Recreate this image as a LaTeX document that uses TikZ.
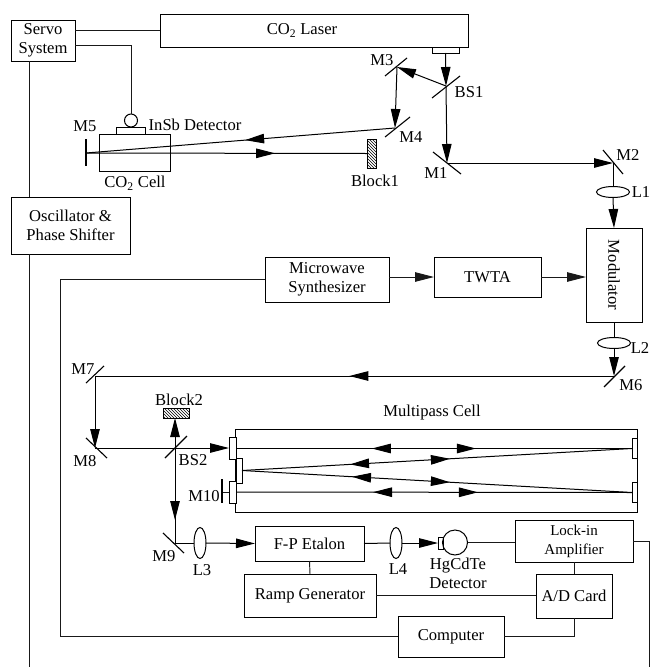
\documentclass[tikz,border=0pt]{standalone}
\usepackage{fontspec}
\setmainfont{Liberation Serif}
\usetikzlibrary{arrows.meta,calc,patterns,shapes.geometric,decorations.markings}
\tikzset{
  >={Triangle[length=19pt,width=9.5pt]},
  wire/.style={line width=0.95pt,black!90},
  beam/.style={line width=1pt,black},
  mirror/.style={line width=1.1pt,black},
  boxed/.style={draw,line width=0.95pt,fill=white,inner sep=0pt,outer sep=0pt,align=center},
  thinbox/.style={draw,line width=0.85pt,fill=white,inner sep=0pt,outer sep=0pt},
  blockbox/.style={draw,line width=0.85pt,inner sep=0pt,outer sep=0pt,pattern=north west lines},
  lensh/.style={ellipse,draw,line width=1pt,inner sep=0pt,outer sep=0pt,minimum width=33pt,minimum height=11pt},
  lensv/.style={ellipse,draw,line width=1pt,inner sep=0pt,outer sep=0pt,minimum width=12pt,minimum height=31pt},
  detcirc/.style={circle,draw,line width=1pt,inner sep=0pt,outer sep=0pt},
  lbl/.style={inner sep=0pt,align=center},
  tipfw/.style={postaction={decorate,decoration={markings,mark=at position #1 with {\arrow{>}}}}},
  tipbw/.style={postaction={decorate,decoration={markings,mark=at position #1 with {\arrowreversed{>}}}}},
}

\begin{document}
\begin{tikzpicture}[x=1pt,y=-1pt,every node/.append style={font=\fontsize{16.6}{19}\selectfont}]
  \useasboundingbox (0,0) rectangle (650,667);

  \node[boxed,minimum width=64,minimum height=41] (servo) at (43,40.5) {Servo\\System};
  \node[boxed,minimum width=308,minimum height=33] (laser) at (314,30.5) {\hspace*{-24pt}CO\textsubscript{2} Laser};
  \node[thinbox,minimum width=27,minimum height=6] (outlet) at (445.5,50) {};
  \node[boxed,minimum width=119,minimum height=57] (osc) at (70.5,225.5) {Oscillator \&\\Phase Shifter};
  \node[boxed,minimum width=71,minimum height=37] (co2cell) at (134.5,152.5) {};
  \node[thinbox,minimum width=29,minimum height=7] (insbbase) at (130.5,130.5) {};
  \node[detcirc,minimum size=13] (insb) at (131,120.5) {};
  \node[blockbox,minimum width=9,minimum height=29] (block1) at (371.5,153.5) {};

  \node[boxed,minimum width=124,minimum height=45] (synth) at (327,279.5) {Microwave\\Synthesizer};
  \node[boxed,minimum width=107,minimum height=40] (twta) at (487.5,277) {TWTA};
  \node[boxed,minimum width=94,minimum height=56,rotate=-90] (modulator) at (614,275) {Modulator};
  \node[lensh] (l1) at (613,192) {};
  \node[lensh] (l2) at (614,343) {};

  \node[boxed,minimum width=402,minimum height=83] (mpcell) at (436,470.5) {};
  \node[blockbox,minimum width=26,minimum height=10] (block2) at (176,413) {};
  \node[boxed,minimum width=109,minimum height=35] (fp) at (309.5,543.5) {F-P Etalon};
  \node[boxed,minimum width=132,minimum height=43] (ramp) at (310,595.5) {Ramp Generator};
  \node[boxed,minimum width=118,minimum height=42] (lockin) at (574,541) {\fontsize{15}{18}\selectfont Lock-in\\\fontsize{15}{18}\selectfont Amplifier};
  \node[boxed,minimum width=76,minimum height=44] (adcard) at (574,596) {A/D Card};
  \node[boxed,minimum width=106,minimum height=41] (computer) at (451,636.5) {Computer};
  \node[lensv] (l3) at (200,543) {};
  \node[lensv] (l4) at (396,543) {};
  \node[thinbox,minimum width=5,minimum height=12] (hgwin) at (440.5,543) {};
  \node[detcirc,minimum size=25] (hgcdte) at (455,542.5) {};

  \coordinate (m1) at (447,163);
  \coordinate (m2) at (613,163);
  \coordinate (m3) at (397,67);
  \coordinate (m4) at (395,128);
  \coordinate (m5) at (86,153);
  \coordinate (m6) at (614,376);
  \coordinate (m7) at (95,376);
  \coordinate (m8) at (95,448);
  \coordinate (m9) at (175,543);
  \coordinate (bs1) at (446,86);
  \coordinate (bs2) at (175,448);
  \coordinate (m10) at (222,492);
  \coordinate (leftbus) at (29,667);
  \coordinate (midbus) at (60,636.5);
  \coordinate (rightbus) at (649.5,667);

  \draw[wire] (laser.west) -- (laser.west -| servo.east);
  \draw[wire] ($(servo.east)+(0,4.5)$) -| (insb.north);
  \draw[wire] (osc.north -| leftbus) -- (servo.south -| leftbus);
  \draw[wire] (leftbus) -- (osc.south -| leftbus);
  \draw[wire] (synth.west) -| (midbus) -- (computer.west);
  \draw[wire] (fp.south) -- (ramp.north);
  \draw[wire] (lockin.south) -- (adcard.north);
  \draw[wire] (ramp.east) -- (ramp.east -| adcard.west);
  \draw[wire] (computer.east) -| (adcard.south);
  \draw[wire] (hgcdte.east) -- (hgcdte.east -| lockin.west);
  \draw[wire] (lockin.east) -| (rightbus);
  \draw[wire,->] (twta.west -| synth.east) -- (twta.west);
  \draw[wire,->] (twta.east) -- (twta.east -| modulator.south);

  \draw[beam,->] (outlet.south) -- (bs1);
  \draw[beam,->] (bs1) -- (m3);
  \draw[beam,->] (m3) -- (m4);
  \draw[beam,->] (bs1) -- (m1);
  \draw[beam,->] (m1) -- (m2);
  \draw[beam] (m2) -- (l1.north);
  \draw[beam,->] (l1.south) -- (modulator.west);
  \draw[beam,tipfw=0.485] (m4) -- (m5);
  \draw[beam,tipfw=0.673] (m5) -- (block1.west);
  \draw[beam] (modulator.east) -- (l2.north);
  \draw[beam,->] (l2.south) -- (m6);
  \draw[beam,tipfw=0.51] (m6) -- (m7);
  \draw[beam,->] (m7) -- (m8);
  \draw[beam,->] (m8) -- (229,448);
  \draw[beam,->] (bs2) -- (block2.south -| bs2);
  \draw[beam,tipfw=0.758] (bs2) -- (m9);
  \draw[beam] (m9) -- (l3.west);
  \draw[beam,->] (l3.east) -- (fp.west);
  \draw[beam] (fp.east) -- (l4.west);
  \draw[beam,->] (l4.east) -- (hgwin.west);

  \node[thinbox,minimum width=7,minimum height=22] (win1) at (232.5,448.5) {};
  \node[thinbox,minimum width=6,minimum height=25] (win2) at (239,470.5) {};
  \node[thinbox,minimum width=7,minimum height=22] (win3) at (232.5,492) {};
  \node[thinbox,minimum width=5,minimum height=20] (winr1) at (634.5,448.5) {};
  \node[thinbox,minimum width=5,minimum height=20] (winr2) at (634.5,492.5) {};

  \draw[beam,tipfw=0.606,tipbw=0.343] (win1.east) -- (winr1.west);
  \draw[beam,tipfw=0.723,tipbw=0.467] (winr1.west) -- (win2.east);
  \draw[beam,tipfw=0.533,tipbw=0.282] (win2.east) -- (winr2.west);
  \draw[beam,tipfw=0.611,tipbw=0.346] (win3.east) -- (winr2.west);
  \draw[wire] (m10) -- (win3.west |- m10);

  \draw[mirror] ($(m1)+(-14,-11)$) -- ($(m1)+(14,11)$);
  \draw[mirror] ($(m2)+(-10,-13)$) -- ($(m2)+(10,11)$);
  \draw[mirror] ($(m3)+(-12,9)$) -- ($(m3)+(10,-9)$);
  \draw[mirror] ($(m4)+(-10,9)$) -- ($(m4)+(15,-11)$);
  \draw[mirror] ($(m5)+(0,-14)$) -- ($(m5)+(0,13)$);
  \draw[mirror] ($(m6)+(-10,11)$) -- ($(m6)+(11,-10)$);
  \draw[mirror] ($(m7)+(-9,7)$) -- ($(m7)+(9,-10)$);
  \draw[mirror] ($(m8)+(-9,-10)$) -- ($(m8)+(12,10)$);
  \draw[mirror] ($(m9)+(-12,-10)$) -- ($(m9)+(9,10)$);
  \draw[mirror] ($(bs1)+(-14,12)$) -- ($(bs1)+(14,-10)$);
  \draw[mirror] ($(bs2)+(-10,10)$) -- ($(bs2)+(12,-12)$);
  \draw[mirror] ($(m10)+(0,-13)$) -- ($(m10)+(0,11)$);

  \node[lbl] (m1lab) at (436,173) {M1};
  \node[lbl] (m2lab) at (628,155) {M2};
  \node[lbl] (m3lab) at (382,60) {M3};
  \node[lbl] (m4lab) at (411,137) {M4};
  \node[lbl] (m5lab) at (85,126) {M5};
  \node[lbl] (m6lab) at (631,385) {M6};
  \node[lbl] (m7lab) at (83,369) {M7};
  \node[lbl] (m8lab) at (85,461) {M8};
  \node[lbl] (m9lab) at (164,556) {M9};
  \node[lbl] (m10lab) at (204,496) {M10};
  \node[lbl] (bs1lab) at (469,92) {BS1};
  \node[lbl] (bs2lab) at (193,460) {BS2};
  \node[lbl] (l1lab) at (641,192) {L1};
  \node[lbl] (l2lab) at (640,348) {L2};
  \node[lbl] (l3lab) at (202,570) {L3};
  \node[lbl] (l4lab) at (398,569) {L4};
  \node[lbl] (insblab) at (195,125) {InSb Detector};
  \node[lbl] (celllab) at (135,183) {CO\textsubscript{2} Cell};
  \node[lbl] (block1lab) at (375,181) {Block1};
  \node[lbl] (block2lab) at (179,400) {Block2};
  \node[lbl] (mplab) at (432,413) {Multipass Cell};
  \node[lbl] (hglab) at (458,573) {HgCdTe\\Detector};
\end{tikzpicture}
\end{document}
